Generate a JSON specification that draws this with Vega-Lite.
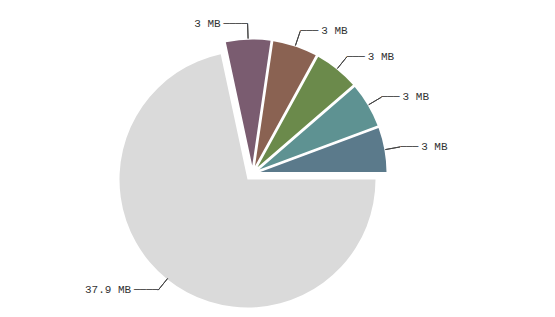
{
  "$schema": "https://vega.github.io/schema/vega-lite/v6.json",
  "width": 505,
  "height": 287,
  "autosize": "none",
  "padding": {"left": 0, "top": 30, "right": 50, "bottom": 0},
  "background": "white",
  "view": {"stroke": null},
  "data": {
    "values": [
      {"k": 1, "name": "A", "label": "3 MB", "size": 3},
      {"k": 2, "name": "B", "label": "3 MB", "size": 3},
      {"k": 3, "name": "C", "label": "3 MB", "size": 3},
      {"k": 4, "name": "D", "label": "3 MB", "size": 3},
      {"k": 5, "name": "E", "label": "3 MB", "size": 3},
      {"k": 6, "name": "F", "label": "37.9 MB", "size": 37.9}
    ]
  },
  "transform": [
    {"stack": "size", "groupby": [], "sort": [{"field": "k", "order": "ascending"}], "as": ["s0", "s1"]},
    {"fold": ["s0", "s1"], "as": ["edge", "t"]},
    {"aggregate": [
      {"op": "min", "field": "t", "as": "t0"},
      {"op": "max", "field": "t", "as": "t1"},
      {"op": "mean", "field": "t", "as": "tm"}
    ], "groupby": ["k", "name", "label"]}
  ],
  "layer": [
    {
      "transform": [{"filter": "datum.k == 6"}],
      "mark": {"type": "arc", "outerRadius": 128, "xOffset": -5, "yOffset": 6},
      "encoding": {
        "theta": {"field": "t0", "type": "quantitative", "stack": null, "scale": {"domain": [0, 52.9], "range": [1.5707963, -4.712389]}},
        "theta2": {"field": "t1"},
        "color": {"field": "name", "type": "nominal", "legend": null,
          "scale": {"domain": ["A", "B", "C", "D", "E", "F"], "range": ["#5b7a8b", "#5e9292", "#6b8a4b", "#8a6252", "#7a5c70", "#dadada"]}}
      }
    },
    {
      "transform": [{"filter": "datum.k < 6"}],
      "mark": {"type": "arc", "innerRadius": 8, "outerRadius": 134, "padAngle": 0.021},
      "encoding": {
        "theta": {"field": "t0", "type": "quantitative", "stack": null, "scale": {"domain": [0, 52.9], "range": [1.5707963, -4.712389]}},
        "theta2": {"field": "t1"},
        "color": {"field": "name", "type": "nominal", "legend": null,
          "scale": {"domain": ["A", "B", "C", "D", "E", "F"], "range": ["#5b7a8b", "#5e9292", "#6b8a4b", "#8a6252", "#7a5c70", "#dadada"]}}
      }
    },
    {
      "mark": {"type": "arc", "innerRadius": 135, "outerRadius": 150, "filled": false, "stroke": "#444444", "strokeWidth": 1},
      "encoding": {
        "theta": {"field": "tm", "type": "quantitative", "stack": null, "scale": {"domain": [0, 52.9], "range": [1.5707963, -4.712389]}},
        "theta2": {"field": "tm"}
      }
    },
    {
      "transform": [{"filter": "datum.k < 5"}],
      "mark": {"type": "text", "radius": 150, "align": "left", "baseline": "middle", "font": "DejaVu Sans Mono", "fontSize": 10, "color": "#444444"},
      "encoding": {
        "theta": {"field": "tm", "type": "quantitative", "stack": null, "scale": {"domain": [0, 52.9], "range": [1.5707963, -4.712389]}},
        "text": {"value": "\u2500\u2500\u2500"}
      }
    },
    {
      "transform": [{"filter": "datum.k >= 5"}],
      "mark": {"type": "text", "radius": 150, "align": "right", "baseline": "middle", "font": "DejaVu Sans Mono", "fontSize": 10, "color": "#444444"},
      "encoding": {
        "theta": {"field": "tm", "type": "quantitative", "stack": null, "scale": {"domain": [0, 52.9], "range": [1.5707963, -4.712389]}},
        "text": {"value": "\u2500\u2500\u2500\u2500"}
      }
    },
    {
      "transform": [{"filter": "datum.k < 5"}],
      "mark": {"type": "text", "radius": 150, "dx": 21, "align": "left", "baseline": "middle", "font": "Liberation Mono", "fontSize": 11, "color": "#333333"},
      "encoding": {
        "theta": {"field": "tm", "type": "quantitative", "stack": null, "scale": {"domain": [0, 52.9], "range": [1.5707963, -4.712389]}},
        "text": {"field": "label"}
      }
    },
    {
      "transform": [{"filter": "datum.k >= 5"}],
      "mark": {"type": "text", "radius": 150, "dx": -27, "align": "right", "baseline": "middle", "font": "Liberation Mono", "fontSize": 11, "color": "#333333"},
      "encoding": {
        "theta": {"field": "tm", "type": "quantitative", "stack": null, "scale": {"domain": [0, 52.9], "range": [1.5707963, -4.712389]}},
        "text": {"field": "label"}
      }
    }
  ]
}
